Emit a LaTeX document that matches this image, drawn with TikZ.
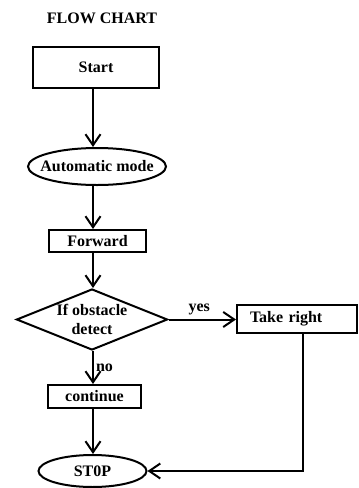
\documentclass[tikz,border=0pt]{standalone}
\usepackage{fontspec}
\setmainfont{Liberation Serif}
\usetikzlibrary{shapes.geometric,arrows.meta}
\begin{document}
\begin{tikzpicture}[x=1pt,y=-1pt,
  every node/.style={font=\fontsize{16}{19}\selectfont\bfseries},
  box/.style={draw,line width=2pt,inner sep=0pt},
  oval/.style={draw,ellipse,line width=2pt,inner ysep=0pt},
  dec/.style={draw,diamond,line width=2pt,inner sep=0pt,aspect=2.47,align=center},
  arr/.style={line width=2pt,-{Straight Barb[length=11pt,width=15pt,line width=2pt]}},
  lbl/.style={inner sep=0pt}]
\useasboundingbox (0,0) rectangle (359,488);
\node[lbl] (title) at (102,18) {FLOW CHART};
\coordinate (spine) at (93,0);
\coordinate (tr) at (303,470);
\node[box,minimum width=126pt,minimum height=41pt] (start) at (96,67.5) {Start};
\node[oval,inner xsep=-9pt,minimum width=138pt,minimum height=37pt] (auto) at (97,166.5) {Automatic mode};
\node[box,minimum width=97pt,minimum height=22pt] (fwd) at (97.5,241) {Forward};
\node[dec,minimum width=151pt,minimum height=61pt] (obs) at (92,319.5) {If obstacle\\[0pt]detect};
\node[box,minimum width=120pt,minimum height=28pt,inner xsep=13pt,text width=94pt,align=left] (take) at (297,319) {Take right};
\node[box,minimum width=93pt,minimum height=23pt] (cont) at (94.5,396.5) {continue};
\node[oval,minimum width=108pt,minimum height=32pt] (stop) at (92.5,471) {ST0P};
\draw[arr] (start.south -| spine) -- (auto.north -| spine);
\draw[arr] (auto.south -| spine) -- (fwd.north -| spine);
\draw[arr] (fwd.south -| spine) -- (obs.north -| spine);
\draw[arr] (obs.east) -- (take.west |- obs.east) node[lbl,midway,above=4pt,xshift=-3pt] (yes) {yes};
\draw[arr] (obs.south -| spine) -- (cont.north -| spine) node[lbl,midway,right=2pt] (no) {no};
\draw[arr] (cont.south -| spine) -- (stop.north -| spine);
\draw[arr] (take.south -| tr) |- (stop.east);
\end{tikzpicture}
\end{document}
